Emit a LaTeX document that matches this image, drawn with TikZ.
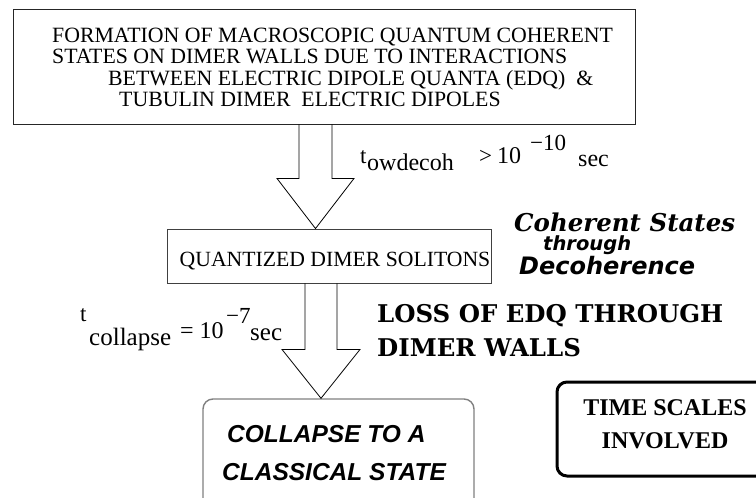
\documentclass[tikz,border=0pt]{standalone}
\usepackage{fontspec}
\setmainfont{Liberation Serif}
\newfontfamily\hsans{Liberation Sans}
\newfontfamily\dvserif{DejaVu Serif}
\newfontfamily\dvsans{DejaVu Sans}
\newcommand\fsz[1]{\fontsize{#1}{#1}\selectfont}
\usetikzlibrary{calc}
\begin{document}
\begin{tikzpicture}[x=1pt,y=-1pt,
  boxline/.style={draw=black!85, line width=0.9pt, inner sep=0pt},
  tline/.style={inner sep=0pt, anchor=base west, font=\fsz{21.8}},
  arrowline/.style={draw=black, line width=0.8pt, line join=miter},
  lbl/.style={inner sep=0pt, anchor=base west, font=\fsz{#1}},
  bigserif/.style={inner sep=0pt, anchor=base west, font=\dvserif\bfseries\fsz{24.4}},
  slanted/.style={inner sep=0pt, anchor=base west, font=\dvsans\bfseries\itshape\fsz{#1}},
  colltext/.style={inner sep=0pt, anchor=base west, font=\hsans\bfseries\itshape\fsz{24.5}}
]
\useasboundingbox (0,0) rectangle (756,498);
\clip (0,0) rectangle (756,498);
\fill[white] (0,0) rectangle (756,498);

% top box
\node[boxline, minimum width=622pt, minimum height=115pt] (top) at (324,66.5) {};
\node[tline] (l1) at (52,42) {FORMATION OF MACROSCOPIC QUANTUM COHERENT};
\node[tline] (l2) at (52,63.5) {STATES ON DIMER WALLS DUE TO INTERACTIONS};
\node[tline] (l3) at (108,85) {BETWEEN ELECTRIC DIPOLE QUANTA (EDQ)\ \ \&};
\node[tline] (l4) at (119,106.5) {TUBULIN DIMER\ \ ELECTRIC DIPOLES};

% middle box
\node[boxline, draw=black!75, minimum width=324pt, minimum height=54pt] (mid) at (329,256) {};
\node[inner sep=0pt, anchor=base, font=\fsz{21.7}] (midtext) at (335,266) {QUANTIZED DIMER SOLITONS};

% arrow 1
\coordinate (a1s) at (top.south -| 315.5,0);
\coordinate (a1t) at (mid.north -| 315.5,0);
\draw[arrowline] ($(a1s)+(-16.5,0)$) -- ++(0,54) -- ++(-22,0) -- (a1t)
  -- ($(a1s)+(38.5,54)$) -- ++(-22,0) -- ($(a1s)+(16.5,0)$);

% label 1
\node[lbl=23] (tw1) at (360,163) {t};
\node[lbl=24] (tw2) at (367,170) {owdecoh};
\node[lbl=23] (tw3) at (479,163) {>};
\node[lbl=24] (tw4) at (497,163) {10};
\node[lbl=23] (tw5) at (530,150) {−10};
\node[lbl=24] (tw6) at (578,166) {sec};

% collapse box
\node[draw=black!50, line width=1.4pt, rounded corners=10pt, minimum width=271pt, minimum height=141pt, inner sep=0pt] (coll) at (338.5,469.5) {};
\node[colltext] (c1) at (227,442) {COLLAPSE TO A};
\node[colltext] (c2) at (222,480) {CLASSICAL STATE};

% arrow 2
\coordinate (a2s) at (mid.south -| 321,0);
\coordinate (a2t) at (coll.north -| 321,0);
\draw[arrowline] ($(a2s)+(-16,0)$) -- ++(0,66) -- ++(-23,0) -- (a2t)
  -- ($(a2s)+(39,66)$) -- ++(-23,0) -- ($(a2s)+(16,0)$);

% label 2
\node[lbl=23] (tc1) at (80,321) {t};
\node[lbl=25] (tc2) at (89,345) {collapse};
\node[lbl=24] (tc3) at (180,338) {= 10};
\node[lbl=23] (tc4) at (226,323) {−7};
\node[lbl=25] (tc5) at (250,340) {sec};

% right texts
\node[inner sep=0pt, anchor=base west, font=\dvserif\bfseries\itshape\fsz{24.5}] (coh) at (514,231) {Coherent States};
\node[slanted=19.5] (thr) at (543,250) {through};
\node[slanted=24] (dec) at (519,274) {Decoherence};

\node[bigserif] (loss1) at (377,322) {LOSS OF EDQ THROUGH};
\node[bigserif] (loss2) at (377,356) {DIMER WALLS};

% time scales box
\node[draw=black, line width=3pt, rounded corners=10pt, minimum width=216pt, minimum height=94pt, inner sep=0pt] (time) at (665,429) {};
\node[inner sep=0pt, anchor=base, font=\bfseries\fsz{24}] (ts1) at (665,415) {TIME SCALES};
\node[inner sep=0pt, anchor=base, font=\bfseries\fsz{24}] (ts2) at (665,448) {INVOLVED};
\end{tikzpicture}
\end{document}
